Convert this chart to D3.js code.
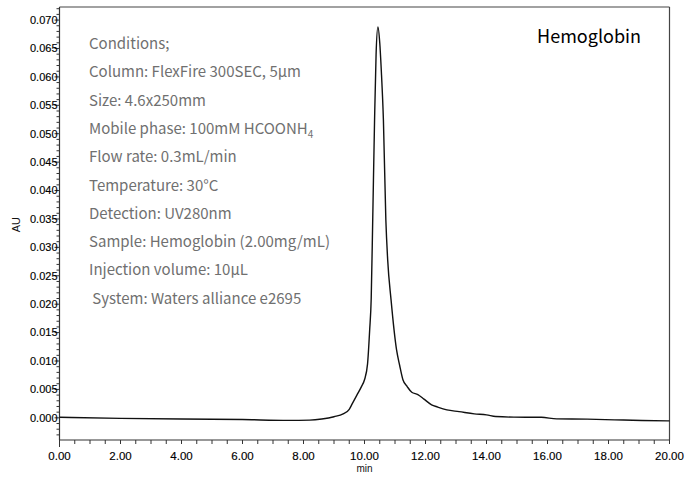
<!DOCTYPE html>
<html><head><meta charset="utf-8">
<script src="https://cdn.jsdelivr.net/npm/d3@7"></script>
<style>body{margin:0;background:#fff}svg{display:block}</style>
</head><body>
<script>
const times = [0,2,4,6,7.5,8.2,8.6,9.0,9.3,9.5,9.6,9.75,9.9,10.0,10.1,10.17,10.22,10.27,10.33,10.38,10.44,10.5,10.55,10.62,10.7,10.76,10.87,11.05,11.15,11.26,11.4,11.55,11.75,11.95,12.2,12.4,12.7,13.1,13.6,14.0,14.3,14.9,15.8,16.3,17.3,18.2,19.1,20];
const absorbance = [0.0001,-0.0001,-0.0002,-0.0003,-0.00045,-0.0004,-0.0002,0.0002,0.0007,0.0015,0.0025,0.004,0.0055,0.0067,0.0095,0.0155,0.021,0.035,0.0524,0.064,0.0688,0.066,0.0612,0.0524,0.0348,0.0278,0.0208,0.012,0.0093,0.0067,0.0055,0.0045,0.0041,0.0033,0.0023,0.0019,0.0014,0.0011,0.0007,0.00053,0.00023,0.00012,0.0001,-0.00018,-0.00023,-0.00035,-0.00047,-0.00053];
const xTickLabels = ["0.00","2.00","4.00","6.00","8.00","10.00","12.00","14.00","16.00","18.00","20.00"];
const yTickLabels = ["0.000","0.005","0.010","0.015","0.020","0.025","0.030","0.035","0.040","0.045","0.050","0.055","0.060","0.065","0.070"];
const conditions = ["Conditions;","Column: FlexFire 300SEC, 5µm","Size: 4.6x250mm","Mobile phase: 100mM HCOONH","Flow rate: 0.3mL/min","Temperature: 30°C","Detection: UV280nm","Sample: Hemoglobin (2.00mg/mL)","Injection volume: 10µL"," System: Waters alliance e2695"];
const title = "Hemoglobin";

const W=686,H=481;
const svg=d3.select("body").append("svg").attr("width",W).attr("height",H);
const x=d3.scaleLinear().domain([0,20]).range([59.5,669.5]);
const y=d3.scaleLinear().domain([-0.0039,0.0723]).range([440,7]);
const axisFont="Liberation Sans, Arial, sans-serif";

// frame top/right
svg.append("line").attr("x1",x(0)).attr("x2",x(20)).attr("y1",y(0.0723)).attr("y2",y(0.0723)).attr("stroke","#444").attr("stroke-width",1.2);
svg.append("line").attr("x1",x(20)).attr("x2",x(20)).attr("y1",y(0.0723)).attr("y2",y(-0.0039)).attr("stroke","#444").attr("stroke-width",1.2);

// x axis
const xMinor=d3.range(0,20.001,0.5);
const gx=svg.append("g").attr("transform",`translate(0,${y(-0.0039)})`);
gx.append("line").attr("x1",x(0)).attr("x2",x(20)).attr("stroke","#333").attr("stroke-width",1.2);
gx.selectAll("line.mt").data(xMinor).join("line").attr("class","mt")
  .attr("x1",d=>x(d)).attr("x2",d=>x(d)).attr("y1",0).attr("y2",d=>d===0?7:4).attr("stroke","#333");
gx.selectAll("text").data(xTickLabels).join("text")
  .attr("x",d=>x(+d)).attr("y",20).attr("text-anchor","middle")
  .attr("font-family",axisFont).attr("font-size",11.5).attr("fill","#000").attr("stroke","#000").attr("stroke-width",0.15).text(d=>d);
svg.append("text").attr("x",x(10)).attr("y",472).attr("text-anchor","middle")
  .attr("font-family",axisFont).attr("font-size",10).attr("fill","#111").text("min");

// y axis
const yMinor=d3.range(-3,73,1).map(d=>d/1000);
const gy=svg.append("g").attr("transform",`translate(${x(0)},0)`);
gy.append("line").attr("y1",y(-0.0039)).attr("y2",y(0.0723)).attr("stroke","#333").attr("stroke-width",1.2);
gy.selectAll("line.mt").data(yMinor).join("line").attr("class","mt")
  .attr("y1",d=>y(d)).attr("y2",d=>y(d)).attr("x1",0)
  .attr("x2",d=>Math.abs(Math.round(d*1000)%5)===0?-5:-3).attr("stroke","#333");
gy.selectAll("text").data(yTickLabels).join("text")
  .attr("x",-2).attr("y",d=>y(+d)).attr("dy","0.35em").attr("text-anchor","end")
  .attr("font-family",axisFont).attr("font-size",11).attr("fill","#000").attr("stroke","#000").attr("stroke-width",0.15).text(d=>d);
svg.append("text").attr("transform",`translate(20,${y(0.034)}) rotate(-90)`).attr("text-anchor","middle")
  .attr("font-family",axisFont).attr("font-size",11).attr("fill","#111").text("AU");

// curve
const data=times.map((t,i)=>[t,absorbance[i]]);
svg.append("path").datum(data).attr("fill","none").attr("stroke","#111").attr("stroke-width",1.4)
  .attr("d",d3.line().x(d=>x(d[0])).y(d=>y(d[1])).curve(d3.curveMonotoneX));

// conditions text
const cf="'Noto Sans CJK JP', 'Noto Sans', sans-serif";
const tg=svg.append("g");
conditions.forEach((s,i)=>{
  const t=tg.append("text").attr("x",89).attr("y",49+i*28.3).attr("font-family",cf)
    .attr("font-size",15).attr("fill","#707070").attr("xml:space","preserve").style("white-space","pre").text(s);
  if(s.startsWith("Mobile")) t.append("tspan").attr("font-size",10).attr("dy",4).text("4");
});
svg.append("text").attr("x",641).attr("y",43).attr("text-anchor","end").attr("font-family",cf)
  .attr("font-size",18).attr("fill","#000").text(title);
</script>
</body></html>
